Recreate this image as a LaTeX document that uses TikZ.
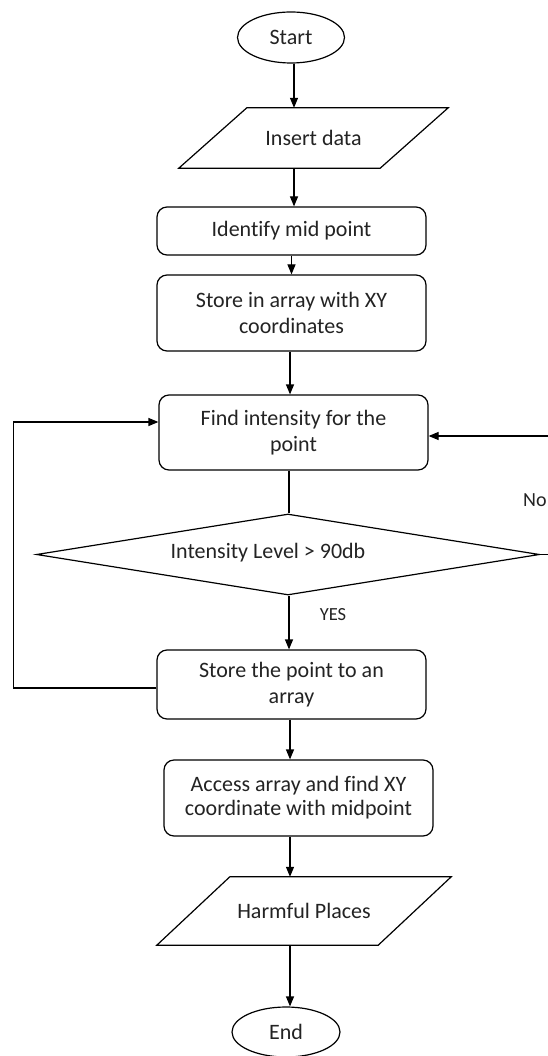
\documentclass[tikz,border=0pt]{standalone}
\usepackage{fontspec}
\setmainfont{Carlito}[Ligatures=NoCommon]
\usetikzlibrary{shapes.geometric,arrows.meta}
\definecolor{txt}{RGB}{35,35,35}
\begin{document}
\begin{tikzpicture}[x=1pt,y=-1pt,
  every node/.style={font=\fontsize{22}{26.5}\selectfont, text=txt},
  line/.style={draw=black, line width=1.2pt},
  arr/.style={line, -{Triangle[length=10pt,width=8pt]}},
  proc/.style={draw=black, line width=1.2pt, rounded corners=10pt, minimum width=269pt, align=center, inner sep=0pt},
  term/.style={ellipse, draw=black, line width=1.2pt, inner sep=0pt},
  io/.style={draw=none, inner sep=0pt},
  lbl/.style={inner sep=0pt}
]
\useasboundingbox (0,0) rectangle (548,1056);
\fill[white] (0,0) rectangle (548,1056);

% nodes
\node[term, minimum width=107pt, minimum height=51pt] (start) at (291,37.5) {Start};
\node[io, minimum width=269pt, minimum height=60pt] (insert) at (313.5,138) {Insert data};
\draw[line] (insert.south west) -- ([xshift=-68pt]insert.south east) -- (insert.north east) -- ([xshift=68pt]insert.north west) -- cycle;

\node[proc, minimum height=48pt] (identify) at (291.5,231) {Identify mid point};
\node[proc, minimum height=76pt] (storexy) at (291.5,313) {Store in array with XY\\coordinates};
\node[proc, minimum height=75pt] (find) at (293.5,432.5) {Find intensity for the\\point};

\node[diamond, draw=black, line width=1.2pt, inner sep=0pt, minimum width=503pt, minimum height=81pt] (dec) at (288,554.5) {};
\node[lbl] (dtext) at (268,553) {Intensity Level > 90db};

\node[proc, minimum height=69pt] (storept) at (291.5,684.5) {Store the point to an\\array};
\node[proc, minimum height=76pt, font=\fontsize{22}{24}\selectfont] (access) at (298.5,798) {Access array and find XY\\coordinate with midpoint};

\node[io, minimum width=294pt, minimum height=68pt] (harm) at (304,911) {Harmful Places};
\draw[line] (harm.south west) -- ([xshift=-73pt]harm.south east) -- (harm.north east) -- ([xshift=73pt]harm.north west) -- cycle;

\node[term, minimum width=108pt, minimum height=50pt] (end) at (286,1032) {End};

% labels
\node[lbl, font=\fontsize{18.5}{20}\selectfont] (yes) at (333,615) {YES};
\node[lbl, anchor=west, font=\fontsize{20}{22}\selectfont] (no) at (523,500) {No};

% connectors
\draw[arr] ([xshift=3pt]start.south) -- ([xshift=3pt]start.south |- insert.north);
\draw[arr] ([xshift=3pt]start.south |- insert.south) -- ([xshift=3pt]start.south |- identify.north);
\draw[arr] (identify.south) -- (identify.south |- storexy.north);
\draw[arr] ([xshift=-1.5pt]storexy.south) -- ([xshift=-1.5pt]storexy.south |- find.north);
\draw[line] ([xshift=1pt]dec.north |- find.south) -- ([xshift=1pt]dec.north);
\draw[arr] ([xshift=1pt]dec.south) -- ([xshift=1pt]dec.south |- storept.north);
\draw[arr] ([xshift=-1.5pt]storept.south) -- ([xshift=-1.5pt]storept.south |- access.north);
\draw[arr] ([xshift=-8.5pt]access.south) -- ([xshift=-8.5pt]access.south |- harm.north);
\draw[arr] ([xshift=4pt]end.north |- harm.south) -- ([xshift=4pt]end.north);

% loops
\draw[arr] ([yshift=-3.5pt]storept.west) -- ++(-143,0) |- ([yshift=10.5pt]find.west);
\draw[arr] (dec.east) -- ++(9.5,0) |- ([yshift=-3.5pt]find.east);
\end{tikzpicture}
\end{document}
